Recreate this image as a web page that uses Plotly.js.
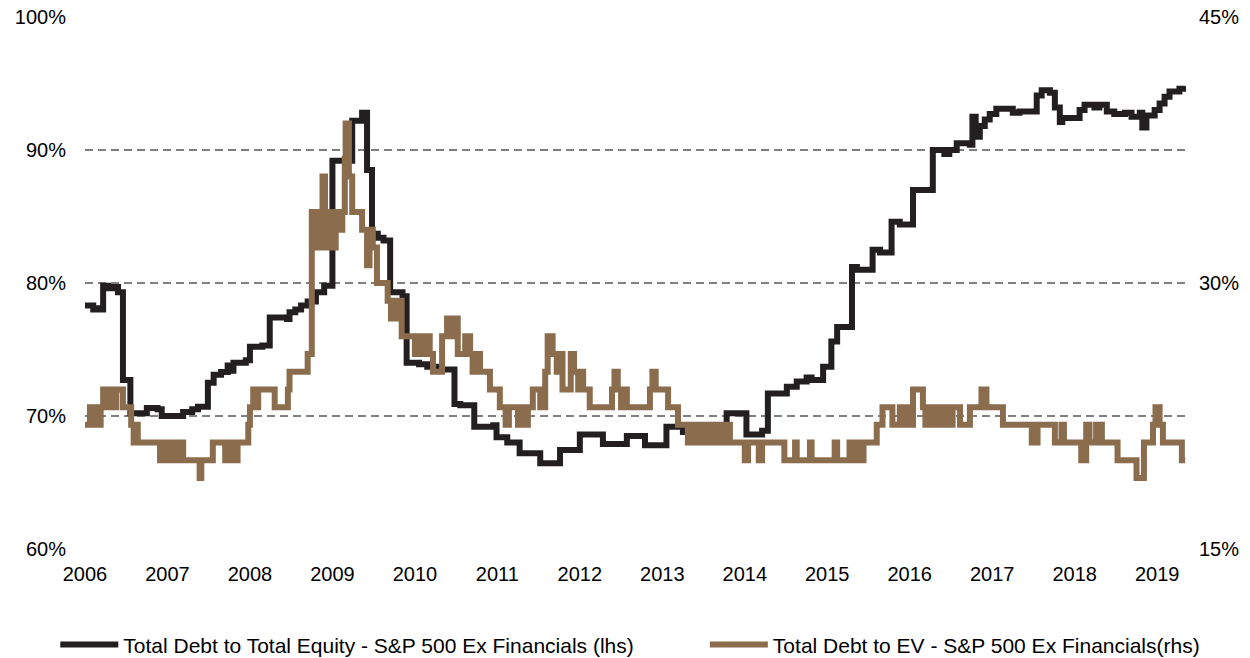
<!DOCTYPE html>
<html>
<head>
<meta charset="utf-8">
<script src="https://cdn.plot.ly/plotly-3.0.1.min.js"></script>
<style>html,body{margin:0;padding:0;background:#fff;}#chart{width:1250px;height:658px;}</style>
</head>
<body>
<div id="chart"></div>
<script>
// Total Debt to Total Equity - S&P 500 Ex Financials (lhs), step series
var equityDates = [
  2006.00,2006.10,2006.13,2006.20,2006.22,2006.28,2006.35,2006.40,2006.46,2006.55,
  2006.75,2006.88,2006.93,2007.19,2007.30,2007.37,2007.49,2007.56,2007.65,2007.73,
  2007.76,2007.80,2007.95,2008.00,2008.15,2008.24,2008.45,2008.48,2008.55,2008.62,
  2008.70,2008.80,2008.90,2009.00,2009.24,2009.36,2009.42,2009.48,2009.55,2009.62,
  2009.70,2009.85,2009.90,2010.05,2010.15,2010.30,2010.48,2010.55,2010.72,2010.95,
  2010.99,2011.12,2011.27,2011.52,2011.76,2012.00,2012.28,2012.57,2012.79,2013.05,
  2013.25,2013.78,2014.02,2014.21,2014.28,2014.51,2014.63,2014.75,2014.81,2014.95,
  2015.05,2015.12,2015.30,2015.36,2015.55,2015.64,2015.78,2015.88,2016.04,2016.28,
  2016.42,2016.48,2016.57,2016.73,2016.76,2016.80,2016.85,2016.91,2016.97,2017.05,
  2017.25,2017.33,2017.49,2017.54,2017.60,2017.70,2017.76,2017.82,2017.85,2018.02,
  2018.06,2018.12,2018.24,2018.30,2018.39,2018.48,2018.61,2018.69,2018.79,2018.82,
  2018.87,2018.97,2019.03,2019.09,2019.15,2019.27,2019.34
];
var equityValues = [
  78.3,78.0,78.1,78.0,79.8,79.6,79.7,79.3,72.7,70.2,
  70.6,70.5,70.0,70.3,70.5,70.7,72.5,73.1,73.3,73.8,
  73.4,74.0,74.2,75.2,75.3,77.4,77.3,77.8,78.0,78.3,
  78.6,79.3,79.8,89.2,92.2,92.8,88.5,83.7,83.4,83.2,
  79.3,79.0,74.0,73.9,73.7,73.5,70.9,70.8,69.2,69.3,
  68.4,68.0,67.2,66.45,67.45,68.6,67.9,68.5,67.8,69.2,
  68.8,70.2,68.6,68.9,71.7,72.2,72.6,72.9,72.7,73.7,
  75.6,76.7,81.2,81.0,82.5,82.3,84.6,84.4,87.0,90.0,
  89.7,90.0,90.5,90.4,92.5,91.0,91.8,92.3,92.7,93.1,
  92.8,92.9,92.9,94.1,94.5,94.3,93.2,92.1,92.4,92.4,
  93.0,93.4,93.2,93.4,92.9,92.7,92.8,92.5,92.8,91.7,
  92.6,93.0,93.5,94.0,94.4,94.6,94.8
];

// Total Debt to EV - S&P 500 Ex Financials (rhs), step series
var evDates = [
  2006.00,2006.06,2006.10,2006.13,2006.17,2006.19,2006.22,2006.27,2006.30,2006.34,
  2006.38,2006.46,2006.56,2006.59,2006.62,2006.64,2006.91,2006.95,2006.97,2007.03,
  2007.05,2007.12,2007.19,2007.39,2007.41,2007.55,2007.70,2007.76,2007.82,2007.85,
  2007.98,2008.00,2008.04,2008.07,2008.10,2008.30,2008.46,2008.48,2008.70,2008.75,
  2008.78,2008.82,2008.86,2008.88,2008.91,2008.95,2008.97,2009.00,2009.04,2009.09,
  2009.12,2009.15,2009.16,2009.20,2009.24,2009.36,2009.42,2009.45,2009.49,2009.54,
  2009.67,2009.71,2009.73,2009.79,2009.82,2009.84,2010.00,2010.04,2010.08,2010.12,
  2010.18,2010.22,2010.33,2010.39,2010.42,2010.46,2010.52,2010.61,2010.67,2010.70,
  2010.75,2010.79,2010.91,2011.03,2011.10,2011.14,2011.25,2011.27,2011.33,2011.37,
  2011.43,2011.52,2011.58,2011.61,2011.67,2011.72,2011.77,2011.79,2011.89,2011.93,
  2011.98,2012.00,2012.04,2012.12,2012.39,2012.42,2012.46,2012.50,2012.53,2012.57,
  2012.85,2012.88,2012.92,2013.07,2013.19,2013.31,2013.33,2013.37,2013.42,2013.45,
  2013.52,2013.55,2013.60,2013.65,2013.70,2013.75,2013.79,2013.82,2014.00,2014.04,
  2014.17,2014.21,2014.48,2014.61,2014.63,2014.79,2014.81,2015.09,2015.12,2015.27,
  2015.30,2015.33,2015.36,2015.39,2015.42,2015.44,2015.60,2015.67,2015.79,2015.88,
  2015.91,2015.95,2016.00,2016.04,2016.16,2016.19,2016.24,2016.30,2016.34,2016.40,
  2016.44,2016.48,2016.52,2016.61,2016.73,2016.87,2016.93,2017.13,2017.48,2017.55,
  2017.76,2017.84,2017.87,2018.08,2018.14,2018.18,2018.26,2018.33,2018.52,2018.75,
  2018.84,2018.95,2018.98,2019.03,2019.07,2019.30,2019.34
];
var evValues = [
  22,23,22,23,22,23,24,23,24,23,
  24,23,22,21,22,21,20,21,20,21,
  20,21,20,19,20,21,20,21,20,21,
  22,23,24,23,24,23,24,25,26,34,
  32,34,32,36,34,32,34,32,34,33,
  34,37,39,36,34,33,31,33,32,30,
  29,28,29,28,29,27,26,27,26,27,
  26,25,27,28,27,28,26,27,26,25,
  26,25,24,23,22,23,22,23,22,23,
  24,23,25,27,26,25,26,24,26,25,
  24,25,24,23,24,25,24,23,24,23,
  24,25,24,23,22,21,22,21,22,21,
  22,21,22,21,22,21,22,21,20,21,
  20,21,20,21,20,21,20,21,20,21,
  20,21,20,21,20,21,22,23,22,23,
  22,23,22,24,23,22,23,22,23,22,
  23,22,23,22,23,24,23,22,21,22,
  21,22,21,20,22,21,22,21,20,19,
  21,22,23,22,21,20,20
];

var yearTicks = [2006,2007,2008,2009,2010,2011,2012,2013,2014,2015,2016,2017,2018,2019];
var yearLabels = ['2006','2007','2008','2009','2010','2011','2012','2013','2014','2015','2016','2017','2018','2019'];
var seriesNames = ['Total Debt to Total Equity - S&P 500 Ex Financials (lhs)', 'Total Debt to EV - S&P 500 Ex Financials(rhs)'];

var FONT = '"Liberation Sans", Arial, sans-serif';
var legendFont = {family: FONT, size: 21, color: '#000000'};

var traces = [
  {
    x: equityDates, y: equityValues, type: 'scatter', mode: 'lines',
    name: seriesNames[0], yaxis: 'y', legend: 'legend',
    line: {color: '#231f20', width: 6, shape: 'hv'}
  },
  {
    x: evDates, y: evValues, type: 'scatter', mode: 'lines',
    name: seriesNames[1], yaxis: 'y2', legend: 'legend2',
    line: {color: '#8b6d4e', width: 6, shape: 'hv'}
  }
];

var layout = {
  width: 1250, height: 658,
  margin: {l: 85, r: 64, t: 17, b: 109, autoexpand: false},
  paper_bgcolor: '#ffffff', plot_bgcolor: '#ffffff',
  font: {family: FONT, size: 20, color: '#000000'},
  showlegend: true,
  legend: {
    orientation: 'h', x: -0.027, xanchor: 'left', y: -0.18, yanchor: 'middle',
    font: legendFont, itemwidth: 58, bgcolor: 'rgba(0,0,0,0)'
  },
  legend2: {
    orientation: 'h', x: 0.563, xanchor: 'left', y: -0.18, yanchor: 'middle',
    font: legendFont, itemwidth: 58, bgcolor: 'rgba(0,0,0,0)'
  },
  xaxis: {
    range: [2006, 2019.35],
    tickmode: 'array', tickvals: yearTicks, ticktext: yearLabels,
    showgrid: false, zeroline: false, showline: false, ticks: '',
    tickfont: {family: FONT, size: 20, color: '#000000'},
    ticklabelstandoff: 11
  },
  yaxis: {
    range: [60, 100], dtick: 10, tick0: 60, ticksuffix: '%',
    showgrid: true, gridcolor: '#808080', gridwidth: 1.8, griddash: '8px,5px',
    zeroline: false, showline: false, ticks: '',
    tickfont: {family: FONT, size: 20, color: '#000000'},
    ticklabelstandoff: 18
  },
  yaxis2: {
    range: [15, 45], dtick: 15, tick0: 15, ticksuffix: '%',
    overlaying: 'y', side: 'right',
    showgrid: false, zeroline: false, showline: false, ticks: '',
    tickfont: {family: FONT, size: 20, color: '#000000'},
    ticklabelstandoff: 12
  }
};

Plotly.newPlot('chart', traces, layout, {staticPlot: true, displayModeBar: false});
</script>
</body>
</html>
